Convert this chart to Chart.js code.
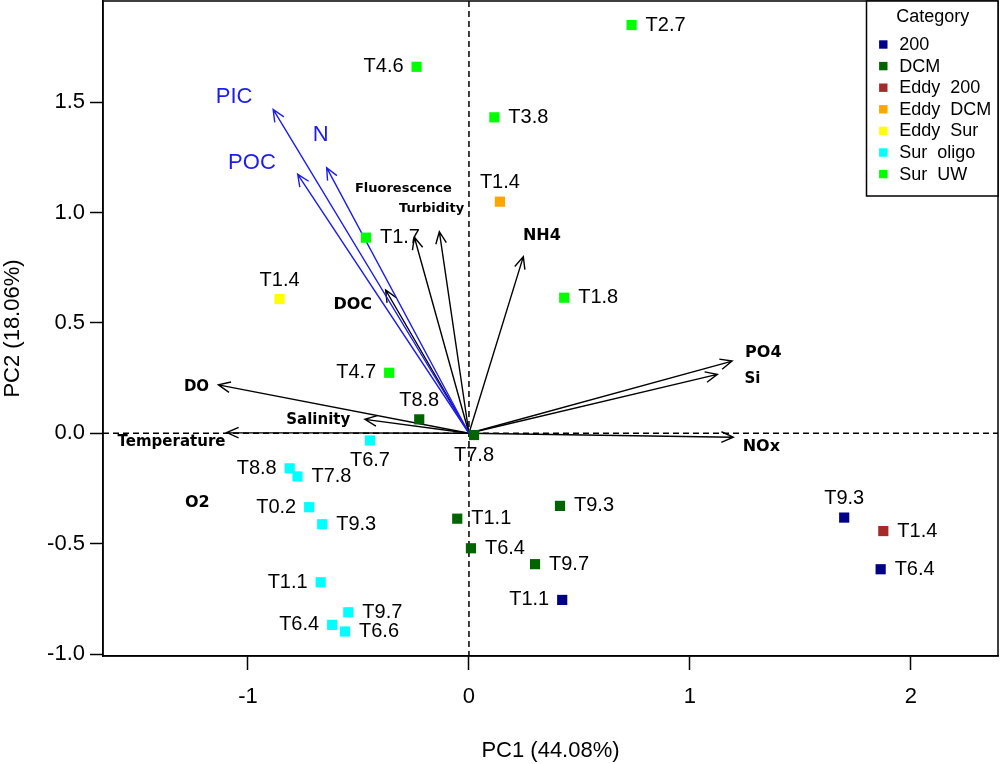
<!DOCTYPE html>
<html>
<head>
<meta charset="utf-8">
<script src="https://cdn.jsdelivr.net/npm/chart.js@4.4.1/dist/chart.umd.min.js"></script>
<style>
  html, body { margin: 0; padding: 0; background: #ffffff; }
  #wrap { width: 1000px; height: 764px; }
</style>
</head>
<body>
<div id="wrap"><canvas id="c" width="1000" height="764"></canvas></div>
<script>
// ---------------- DATA ----------------
const categories = ["200", "DCM", "Eddy  200", "Eddy  DCM", "Eddy  Sur", "Sur  oligo", "Sur  UW"];

// samples per category (PC1, PC2, label)
const c200_x = [0.422, 1.698, 1.863];
const c200_y = [-0.755, -0.382, -0.616];
const c200_lab = ["T1.1", "T9.3", "T6.4"];

const cDCM_x = [-0.225, 0.023, -0.053, 0.009, 0.412, 0.299];
const cDCM_y = [0.063, -0.008, -0.387, -0.521, -0.329, -0.593];
const cDCM_lab = ["T8.8", "T7.8", "T1.1", "T6.4", "T9.3", "T9.7"];

const cEddy200_x = [1.875];
const cEddy200_y = [-0.443];
const cEddy200_lab = ["T1.4"];

const cEddyDCM_x = [0.140];
const cEddyDCM_y = [1.049];
const cEddyDCM_lab = ["T1.4"];

const cEddySur_x = [-0.857];
const cEddySur_y = [0.608];
const cEddySur_lab = ["T1.4"];

const cSurOligo_x = [-0.448, -0.811, -0.776, -0.723, -0.664, -0.671, -0.546, -0.619, -0.561];
const cSurOligo_y = [-0.033, -0.159, -0.196, -0.335, -0.412, -0.675, -0.811, -0.868, -0.898];
const cSurOligo_lab = ["T6.7", "T8.8", "T7.8", "T0.2", "T9.3", "T1.1", "T9.7", "T6.4", "T6.6"];

const cSurUW_x = [0.736, -0.237, 0.115, -0.466, 0.431, -0.361];
const cSurUW_y = [1.849, 1.660, 1.431, 0.886, 0.614, 0.274];
const cSurUW_lab = ["T2.7", "T4.6", "T3.8", "T1.7", "T1.8", "T4.7"];

// variable loadings (arrow tips)
const varNames = ["PIC", "N", "POC", "DOC", "Fluorescence", "Turbidity", "NH4", "PO4", "Si", "NOx", "DO", "Salinity", "Temperature", "O2"];
const varPC1 = [-0.886, -0.644, -0.775, -0.377, -0.247, -0.134, 0.246, 1.191, 1.124, 1.196, -1.134, -0.471, -1.096, null];
const varPC2 = [1.467, 1.203, 1.173, 0.649, 0.888, 0.913, 0.800, 0.327, 0.267, -0.018, 0.219, 0.063, 0.003, null];
// variable label anchors (data coordinates)
const varLabX = [-1.063, -0.671, -0.982, -0.526, -0.297, -0.169, 0.330, 1.332, 1.283, 1.323, -1.233, -0.682, -1.346, -1.229];
const varLabY = [1.523, 1.351, 1.224, 0.581, 1.110, 1.019, 0.895, 0.365, 0.245, -0.061, 0.208, 0.060, -0.038, -0.317];

// axes
const xTicks = [-1, 0, 1, 2];
const xTickLabels = ["-1", "0", "1", "2"];
const yTicks = [-1.0, -0.5, 0.0, 0.5, 1.0, 1.5];
const yTickLabels = ["-1.0", "-0.5", "0.0", "0.5", "1.0", "1.5"];
const xTitle = "PC1 (44.08%)";
const yTitle = "PC2 (18.06%)";
const legendTitle = "Category";

// ---------------- STYLE ----------------
const catColors = ["#00008B", "#006400", "#A52A2A", "#FFA500", "#FFFF00", "#00FFFF", "#00FF00"];
// side of each sample label: r=right, l=left, a=above, b=below
const c200_side = ["l", "a", "r"];
const cDCM_side = ["a", "b", "r", "r", "r", "r"];
const cEddy200_side = ["r"];
const cEddyDCM_side = ["a"];
const cEddySur_side = ["a"];
const cSurOligo_side = ["b", "l", "r", "l", "r", "l", "r", "l", "r"];
const cSurUW_side = ["r", "l", "r", "r", "r", "l"];
const blueVars = ["PIC", "N", "POC"];
const varFont = {
  "Fluorescence": "bold 13px 'DejaVu Sans'", "Turbidity": "bold 13px 'DejaVu Sans'",
  "Temperature": "bold 15px 'DejaVu Sans'", "Salinity": "bold 15px 'DejaVu Sans'", "DO": "bold 15px 'DejaVu Sans'",
  "Si": "bold 15px 'DejaVu Sans'"
};
const defaultVarFont = "bold 16px 'DejaVu Sans'";
const blueFont = "22px 'Liberation Sans'";
const blueColor = "#1c1cf0";

const groups = [
  [c200_x, c200_y, c200_lab, c200_side],
  [cDCM_x, cDCM_y, cDCM_lab, cDCM_side],
  [cEddy200_x, cEddy200_y, cEddy200_lab, cEddy200_side],
  [cEddyDCM_x, cEddyDCM_y, cEddyDCM_lab, cEddyDCM_side],
  [cEddySur_x, cEddySur_y, cEddySur_lab, cEddySur_side],
  [cSurOligo_x, cSurOligo_y, cSurOligo_lab, cSurOligo_side],
  [cSurUW_x, cSurUW_y, cSurUW_lab, cSurUW_side]
];

const datasets = groups.map((g, i) => ({
  label: categories[i],
  data: g[0].map((x, k) => ({ x: x, y: g[1][k], lab: g[2][k], side: g[3][k] })),
  pointStyle: 'rect',
  pointRadius: 7.2,
  pointHoverRadius: 7.2,
  borderWidth: 0,
  backgroundColor: catColors[i],
  borderColor: catColors[i]
}));

function drawArrow(ctx, x0, y0, x1, y1, color) {
  const ang = Math.atan2(y1 - y0, x1 - x0);
  const L = 13, a = 0.42;
  ctx.save();
  ctx.strokeStyle = color;
  ctx.lineWidth = 1.4;
  ctx.setLineDash([]);
  ctx.beginPath();
  ctx.moveTo(x0, y0); ctx.lineTo(x1, y1);
  ctx.moveTo(x1 - L * Math.cos(ang - a), y1 - L * Math.sin(ang - a));
  ctx.lineTo(x1, y1);
  ctx.lineTo(x1 - L * Math.cos(ang + a), y1 - L * Math.sin(ang + a));
  ctx.stroke();
  ctx.restore();
}

const biplotPlugin = {
  id: 'biplot',
  beforeDatasetsDraw(chart) {
    const { ctx, chartArea: ca, scales: { x, y } } = chart;
    const x0 = x.getPixelForValue(0), y0 = y.getPixelForValue(0);
    ctx.save();
    ctx.beginPath();
    ctx.rect(ca.left, ca.top, ca.right - ca.left, ca.bottom - ca.top);
    ctx.clip();
    // dashed reference lines
    ctx.strokeStyle = '#000';
    ctx.lineWidth = 1.5;
    ctx.setLineDash([6, 4]);
    ctx.beginPath();
    ctx.moveTo(ca.left, y0); ctx.lineTo(ca.right, y0);
    ctx.moveTo(x0, ca.top); ctx.lineTo(x0, ca.bottom);
    ctx.stroke();
    ctx.setLineDash([]);
    // arrows: black first, then blue
    const order = varNames.map((n, i) => i).sort((a, b) => (blueVars.includes(varNames[a]) ? 1 : 0) - (blueVars.includes(varNames[b]) ? 1 : 0));
    order.forEach(i => {
      if (varPC1[i] === null) return;
      const col = blueVars.includes(varNames[i]) ? blueColor : '#000';
      drawArrow(ctx, x0, y0, x.getPixelForValue(varPC1[i]), y.getPixelForValue(varPC2[i]), col);
    });
    // arrow labels
    ctx.textAlign = 'center';
    ctx.textBaseline = 'middle';
    varNames.forEach((n, i) => {
      const blue = blueVars.includes(n);
      ctx.font = blue ? blueFont : (varFont[n] || defaultVarFont);
      ctx.fillStyle = blue ? blueColor : '#000';
      ctx.fillText(n, x.getPixelForValue(varLabX[i]), y.getPixelForValue(varLabY[i]));
    });
    ctx.restore();
  },
  afterDatasetsDraw(chart) {
    const { ctx, chartArea: ca, scales: { x, y } } = chart;
    ctx.save();
    // sample labels
    ctx.font = "20px 'Liberation Sans'";
    ctx.fillStyle = '#000';
    ctx.textBaseline = 'middle';
    chart.data.datasets.forEach(ds => {
      ds.data.forEach(p => {
        const px = x.getPixelForValue(p.x), py = y.getPixelForValue(p.y);
        let tx = px, ty = py;
        if (p.side === 'r') { ctx.textAlign = 'left'; tx = px + 14; }
        else if (p.side === 'l') { ctx.textAlign = 'right'; tx = px - 13; }
        else if (p.side === 'a') { ctx.textAlign = 'center'; ty = py - 19; }
        else { ctx.textAlign = 'center'; ty = py + 20; }
        ctx.fillText(p.lab, tx, ty);
      });
    });
    // plot box
    ctx.strokeStyle = '#000';
    ctx.lineWidth = 1.5;
    ctx.strokeRect(ca.left, ca.top, ca.right - ca.left, ca.bottom - ca.top);
    // legend
    const lx = 866.5, ly = ca.top, lw = ca.right - lx, lh = 195;
    ctx.fillStyle = '#fff';
    ctx.fillRect(lx, ly, lw, lh);
    ctx.strokeRect(lx, ly, lw, lh);
    ctx.fillStyle = '#000';
    ctx.font = "18px 'Liberation Sans'";
    ctx.textAlign = 'center';
    ctx.fillText(legendTitle, 932.7, 17.5);
    ctx.textAlign = 'left';
    chart.data.datasets.forEach((ds, i) => {
      const cy = 44.5 + i * 21.6;
      ctx.fillStyle = ds.backgroundColor;
      ctx.fillRect(883.3 - 4.2, cy - 4.2, 8.4, 8.4);
      ctx.fillStyle = '#000';
      ctx.fillText(ds.label, 899.3, cy + 0.5);
    });
    ctx.restore();
  }
};

Chart.defaults.font.family = "'Liberation Sans', Arial, sans-serif";
Chart.defaults.color = '#000';

new Chart(document.getElementById('c'), {
  type: 'scatter',
  data: { datasets: datasets },
  options: {
    responsive: false,
    devicePixelRatio: 1,
    animation: false,
    layout: { autoPadding: false, padding: { top: 1, right: 2, left: 0, bottom: 0 } },
    plugins: { legend: { display: false }, tooltip: { enabled: false } },
    scales: {
      x: {
        type: 'linear', position: 'bottom',
        min: -1.656, max: 2.394,
        afterFit(s) { s.height = 108; s.paddingLeft = 0; s.paddingRight = 0; },
        afterBuildTicks(s) { s.ticks = xTicks.map(v => ({ value: v })); },
        ticks: {
          font: { size: 22 }, color: '#000', padding: 14,
          callback: (v) => { const k = xTicks.indexOf(v); return k >= 0 ? xTickLabels[k] : ''; }
        },
        grid: { drawOnChartArea: false, tickLength: 14, color: '#000', tickWidth: 1.5 },
        border: { display: true, color: '#000', width: 1.5 },
        title: { display: true, text: xTitle, font: { size: 22 }, color: '#000', padding: { top: 0, bottom: 0 } }
      },
      y: {
        type: 'linear', position: 'left',
        min: -1.009, max: 1.958,
        afterFit(s) { s.width = 103; s.paddingTop = 0; s.paddingBottom = 0; },
        afterBuildTicks(s) { s.ticks = yTicks.map(v => ({ value: v })); },
        ticks: {
          font: { size: 22 }, color: '#000', padding: 5,
          callback: (v) => { const k = yTicks.indexOf(v); return k >= 0 ? yTickLabels[k] : ''; }
        },
        grid: { drawOnChartArea: false, tickLength: 13, color: '#000', tickWidth: 1.5 },
        border: { display: true, color: '#000', width: 1.5 },
        title: { display: true, text: yTitle, font: { size: 22 }, color: '#000', padding: { top: 0, bottom: 0 } }
      }
    }
  },
  plugins: [biplotPlugin]
});
</script>
</body>
</html>
